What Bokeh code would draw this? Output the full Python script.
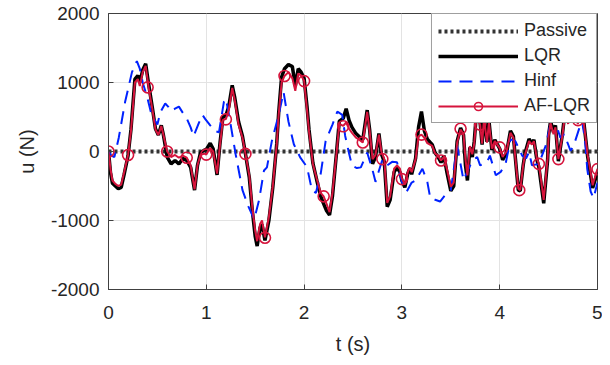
from bokeh.plotting import figure
from bokeh.models import Range1d, Legend, LegendItem, FixedTicker
from bokeh.embed import file_html
from bokeh.resources import INLINE

# ---------------- data ----------------
x_ticks = [0, 1, 2, 3, 4, 5]
y_ticks = [-2000, -1000, 0, 1000, 2000]
y_tick_labels = {-2000: "-2000", -1000: "-1000", 0: "0", 1000: "1000", 2000: "2000"}

t_passive = [0, 5]
u_passive = [0, 0]

t_ctrl = [0.00, 0.02, 0.04, 0.07, 0.10, 0.13, 0.16, 0.20, 0.23, 0.27, 0.30, 0.32, 0.35, 0.38, 0.41,
          0.45, 0.48, 0.51, 0.54, 0.56, 0.60, 0.64, 0.68, 0.72, 0.76, 0.80, 0.84, 0.88, 0.91, 0.94,
          0.98, 1.00, 1.04, 1.07, 1.11, 1.14, 1.17, 1.20, 1.23, 1.265, 1.29, 1.33, 1.37, 1.40, 1.44,
          1.47, 1.50, 1.52, 1.55, 1.57, 1.60, 1.64, 1.68, 1.72, 1.74, 1.77, 1.80, 1.84, 1.88, 1.91,
          1.94, 1.97, 2.00, 2.03, 2.05, 2.09, 2.13, 2.17, 2.20, 2.23, 2.26, 2.29, 2.33, 2.36, 2.40,
          2.43, 2.46, 2.49, 2.53, 2.56, 2.60, 2.645, 2.67, 2.70, 2.73, 2.765, 2.79, 2.82, 2.85, 2.88,
          2.92, 2.95, 2.98, 3.00, 3.03, 3.06, 3.08, 3.10, 3.14, 3.17, 3.20, 3.23, 3.26, 3.31, 3.34,
          3.37, 3.40, 3.43, 3.46, 3.50, 3.53, 3.565, 3.60, 3.63, 3.65, 3.67, 3.695, 3.72, 3.74, 3.76,
          3.80, 3.82, 3.84, 3.87, 3.89, 3.92, 3.95, 4.00, 4.03, 4.07, 4.11, 4.14, 4.19, 4.21, 4.24,
          4.26, 4.30, 4.33, 4.35, 4.38, 4.40, 4.45, 4.49, 4.50, 4.52, 4.55, 4.57, 4.60, 4.64, 4.67,
          4.70, 4.73, 4.78, 4.80, 4.83, 4.86, 4.90, 4.93, 4.95, 5.00]

u_aflqr = [0, -250, -420, -470, -500, -480, -300, -50, 300, 1000, 1050, 950, 1150, 1240, 930,
           600, 320, 240, 370, 250, 0, -80, -50, -90, -60, -90, -200, -550, -200, -50,
           -30, -45, 50, 0, -320, 100, 460, 470, 600, 920, 750, 390, 200, -30, -350,
           -800, -1150, -1300, -1050, -1000, -1245, -950, -500, 100, 530, 1000, 1095, 1150, 1060, 880,
           1130, 1100, 1025, 600, 295, -180, -400, -600, -650, -760, -880, -600, -50, 400, 370,
           420, 330, 270, 200, 175, 130, 575, 300, -110, -50, 245, 0, -110, -745, -650,
           -250, -200, -250, -390, -480, -300, -230, -300, -110, 220, 245, 200, 120, 80, -30,
           -60, -130, -80, -250, -510, -450, 130, 320, 250, -110, -345, 80, -40, 120, 480,
           390, 115, 480, 130, 420, 40, 150, 50, -80, 0, 270, 200, -535, -560, -200,
           -40, 150, 100, 150, -100, -180, -700, -100, 220, 410, 250, 350, -110, 220, 560,
           400, 650, 460, 400, 650, 410, -60, -300, -490, -250]

u_lqr = [0, -300, -460, -500, -540, -520, -330, -60, 320, 1050, 1100, 1000, 1180, 1270, 980,
         620, 330, 240, 380, 250, -80, -180, -130, -180, -100, -130, -230, -560, -200, -20,
         20, 30, 120, 40, -340, 120, 500, 520, 650, 960, 790, 430, 220, -30, -380,
         -850, -1230, -1370, -1100, -1060, -1290, -1000, -520, 110, 560, 1080, 1200, 1260, 1230, 950,
         1200, 1150, 1060, 650, 320, -170, -420, -650, -760, -860, -920, -650, -40, 440, 480,
         620, 450, 350, 260, 220, 170, 600, 320, -180, -80, 260, -30, -150, -800, -700,
         -300, -230, -300, -420, -520, -320, -250, -330, -100, 350, 580, 300, 180, 100, -20,
         -80, -160, -60, -300, -570, -500, 150, 340, 240, -200, -420, 60, -80, 150, 520,
         420, 100, 520, 140, 450, 20, 170, 40, -120, -20, 300, 220, -560, -570, -200,
         -20, 180, 120, 170, -120, -220, -750, -120, 240, 440, 280, 380, -140, 240, 600,
         430, 680, 490, 430, 680, 430, -80, -350, -530, -300]

t_mark = [0.0, 0.2, 0.4, 0.6, 0.8, 1.0, 1.2, 1.4, 1.6, 1.8, 2.0, 2.2, 2.4,
          2.6, 2.8, 3.0, 3.2, 3.4, 3.6, 3.8, 4.0, 4.2, 4.4, 4.6, 4.8, 5.0]
u_mark = [0, -50, 930, 0, -90, -45, 465, -35, -1250, 1095, 1020, -650, 365,
          130, -110, -400, 245, -130, 330, 390, 60, -560, -180, -110, 455, -255]

t_hinf = [0.00, 0.03, 0.06, 0.105, 0.17, 0.24, 0.29, 0.32, 0.35, 0.40, 0.44, 0.50, 0.53, 0.58, 0.61,
          0.64, 0.68, 0.72, 0.76, 0.80, 0.84, 0.87, 0.92, 0.96, 0.99, 1.04, 1.09, 1.13, 1.18, 1.20,
          1.23, 1.30, 1.37, 1.43, 1.49, 1.54, 1.59, 1.62, 1.67, 1.74, 1.79, 1.84, 1.895, 1.96, 2.03,
          2.08, 2.12, 2.17, 2.22, 2.29, 2.34, 2.39, 2.42, 2.46, 2.49, 2.54, 2.58, 2.645, 2.70, 2.73,
          2.76, 2.80, 2.85, 2.90, 2.95, 3.00, 3.05, 3.10, 3.14, 3.21, 3.26, 3.29, 3.34, 3.39, 3.45,
          3.50, 3.565, 3.63, 3.67, 3.72, 3.77, 3.80, 3.87, 3.90, 3.96, 4.01, 4.06, 4.11, 4.16, 4.23,
          4.27, 4.30, 4.33, 4.40, 4.47, 4.52, 4.55, 4.58, 4.62, 4.66, 4.725, 4.76, 4.81, 4.84, 4.87,
          4.895, 4.93, 4.96, 5.00]
u_hinf = [0, -60, -80, 200, 720, 1150, 1310, 1200, 1000, 765, 530, 390, 570, 695, 650,
          585, 620, 650, 560, 480, 350, 220, 400, 530, 470, 380, 295, 280, 720, 765,
          550, -40, -560, -795, -985, -700, -275, -230, 150, 530, 860, 435, 105, -85, -225,
          -560, -600, -320, 150, 390, 580, 530, 225, -30, -205, -240, -230, -15, -270, -440,
          -300, -120, -200, -150, -155, -440, -580, -450, -420, -250, -440, -675, -700, -725, -620,
          -560, 80, -415, -290, -130, -80, -200, -155, -60, -345, -295, -180, 175, 150, -60,
          -100, -10, -200, -180, 80, 410, 550, 380, 200, 250, 10, 100, 320, 450, 200,
          -250, -580, -675, -450]

# ---------------- figure ----------------
FONT = "Liberation Sans"
TXT = "#262626"

p = figure(width=602, height=357, output_backend="svg", toolbar_location=None,
           x_range=Range1d(0, 5), y_range=Range1d(-2000, 2000),
           min_border_left=108, min_border_right=5, min_border_top=13, min_border_bottom=62)
p.background_fill_color = "white"
p.border_fill_color = "white"
p.outline_line_color = "#404040"
p.outline_line_width = 1

p.xaxis.ticker = FixedTicker(ticks=x_ticks)
p.yaxis.ticker = FixedTicker(ticks=y_ticks)
p.yaxis.major_label_overrides = y_tick_labels
for ax in (p.xaxis[0], p.yaxis[0]):
    ax.axis_line_color = "#404040"
    ax.major_tick_in = 5
    ax.major_tick_out = 0
    ax.major_tick_line_color = "#404040"
    ax.minor_tick_line_color = None
    ax.major_label_text_font = FONT
    ax.major_label_text_font_size = "19px"
    ax.major_label_text_color = TXT
    ax.axis_label_text_font = FONT
    ax.axis_label_text_font_size = "20px"
    ax.axis_label_text_font_style = "normal"
    ax.axis_label_text_color = TXT
p.xaxis.axis_label = "t (s)"
p.yaxis.axis_label = "u (N)"
p.xaxis.major_label_standoff = 16
p.xaxis.axis_label_standoff = 11
p.yaxis.major_label_standoff = 9
p.yaxis.axis_label_standoff = 10

p.xgrid.grid_line_color = "#e3e3e3"
p.ygrid.grid_line_color = "#e3e3e3"
p.xgrid.ticker = FixedTicker(ticks=x_ticks)
p.ygrid.ticker = FixedTicker(ticks=y_ticks)

RED = "#d6143c"

r_pas = p.line(t_passive, u_passive, line_color="#333333", line_width=4, line_dash="3 3")
r_lqr = p.line(t_ctrl, u_lqr, line_color="black", line_width=3.5)
r_hinf = p.line(t_hinf, u_hinf, line_color="#0022ff", line_width=2, line_dash="13 8")
r_af = p.line(t_ctrl, u_aflqr, line_color=RED, line_width=2)
r_mk = p.scatter(t_mark, u_mark, marker="circle", size=11, fill_color=None,
                 line_color=RED, line_width=1.6)

legend = Legend(items=[
    LegendItem(label="Passive", renderers=[r_pas]),
    LegendItem(label="LQR", renderers=[r_lqr]),
    LegendItem(label="Hinf", renderers=[r_hinf]),
    LegendItem(label="AF-LQR", renderers=[r_af, r_mk]),
], location="top_right")
legend.margin = 0
legend.padding = 6
legend.spacing = 4
legend.glyph_width = 80
legend.glyph_height = 20
legend.label_height = 20
legend.label_standoff = 6
legend.label_text_font = FONT
legend.label_text_font_size = "18px"
legend.label_text_color = TXT
legend.border_line_color = "#404040"
legend.border_line_width = 1
legend.background_fill_color = "white"
legend.background_fill_alpha = 1.0
p.add_layout(legend, "center")

open("out.html", "w").write(file_html(p, INLINE))
